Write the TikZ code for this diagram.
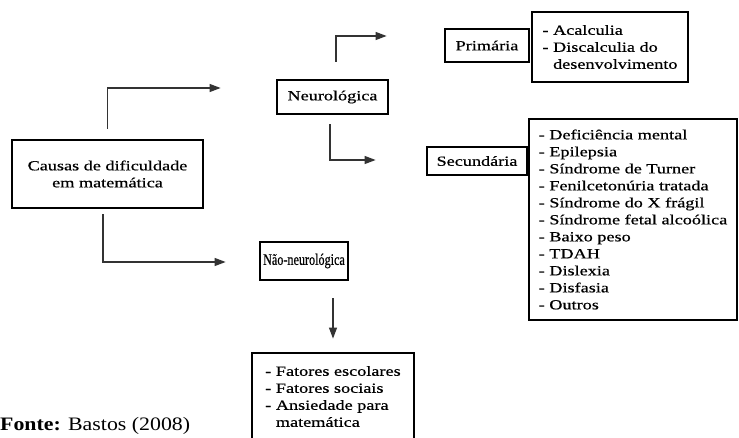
\documentclass[tikz,border=0pt]{standalone}
\usepackage{fontspec}
\setmainfont{Liberation Serif}[FakeStretch=1.3, FakeBold=0.6]
\newfontfamily\narrowfont{Liberation Serif}[FakeStretch=0.76, FakeBold=0.6]
\newfontfamily\sourcefont{Liberation Serif}[FakeStretch=1.15]
\usetikzlibrary{arrows.meta, calc}

\begin{document}
\begin{tikzpicture}[
    x=1pt, y=-1pt,
    >={Triangle[length=11pt, width=8pt]},
    font=\fontsize{14}{17}\selectfont,
    box/.style={draw=black, line width=2.8pt, inner sep=0pt, text=black},
    lst/.style={box, align=left},
    arr/.style={->, draw=black!80, line width=1.2pt},
]
    % page frame
    \clip (0,0) rectangle (739,438);

    % main cause
    \node[box, align=center, minimum width=191pt, minimum height=68pt] (causas)
        at (107.5,174) {Causas de dificuldade\\em matemática};

    % first level
    \node[box, minimum width=111pt, minimum height=34pt] (neuro)
        at (332.5,97) {Neurológica};
    \node[box, font=\narrowfont\fontsize{16}{17}\selectfont,
          minimum width=88pt, minimum height=38pt] (naoneuro)
        at (304,261) {Não-neurológica};

    % second level
    \node[box, minimum width=84pt, minimum height=33pt] (primaria)
        at (487,45.5) {Primária};
    \node[box, minimum width=100pt, minimum height=28pt] (secund)
        at (477,161) {Secundária};

    % lists
    \node[lst, minimum width=156pt, minimum height=70pt] (acalc)
        at (610,47) {- Acalculia\\- Discalculia do\\\hphantom{-}\ desenvolvimento};
    \node[lst, minimum width=208pt, minimum height=201pt] (defic)
        at (633,219.5) {- Deficiência mental\\- Epilepsia\\- Síndrome de Turner\\
        - Fenilcetonúria tratada\\- Síndrome do X frágil\\- Síndrome fetal alcoólica\\
        - Baixo peso\\- TDAH\\- Dislexia\\- Disfasia\\- Outros};
    \node[lst, minimum width=162pt, minimum height=87pt] (fatores)
        at (333,396.5) {- Fatores escolares\\- Fatores sociais\\- Ansiedade para\\
        \hphantom{-}\ matemática};

    % connectors
    \draw[arr, shorten <=10pt] (causas.north) |- ($(neuro.west)+(-55,-9)$);
    \draw[arr, shorten <=17pt] ($(neuro.north)+(3.5,0)$) |- ($(primaria.west)+(-57,-9.5)$);
    \draw[arr, shorten <=9pt] ($(neuro.south)+(-2.5,0)$) |- ($(secund.west)+(-50,-1)$);
    \draw[arr, shorten <=5pt] ($(causas.south)+(-4.5,0)$) |- ($(naoneuro.west)+(-33,1)$);
    \draw[arr, shorten <=17pt, shorten >=13pt] (naoneuro.south -| fatores.north) -- (fatores.north);

    % source
    \node[anchor=base west, inner sep=0pt, font=\sourcefont\fontsize{19}{22}\selectfont] (fonte)
        at (0,430) {\textbf{Fonte:} Bastos (2008)};
\end{tikzpicture}
\end{document}
